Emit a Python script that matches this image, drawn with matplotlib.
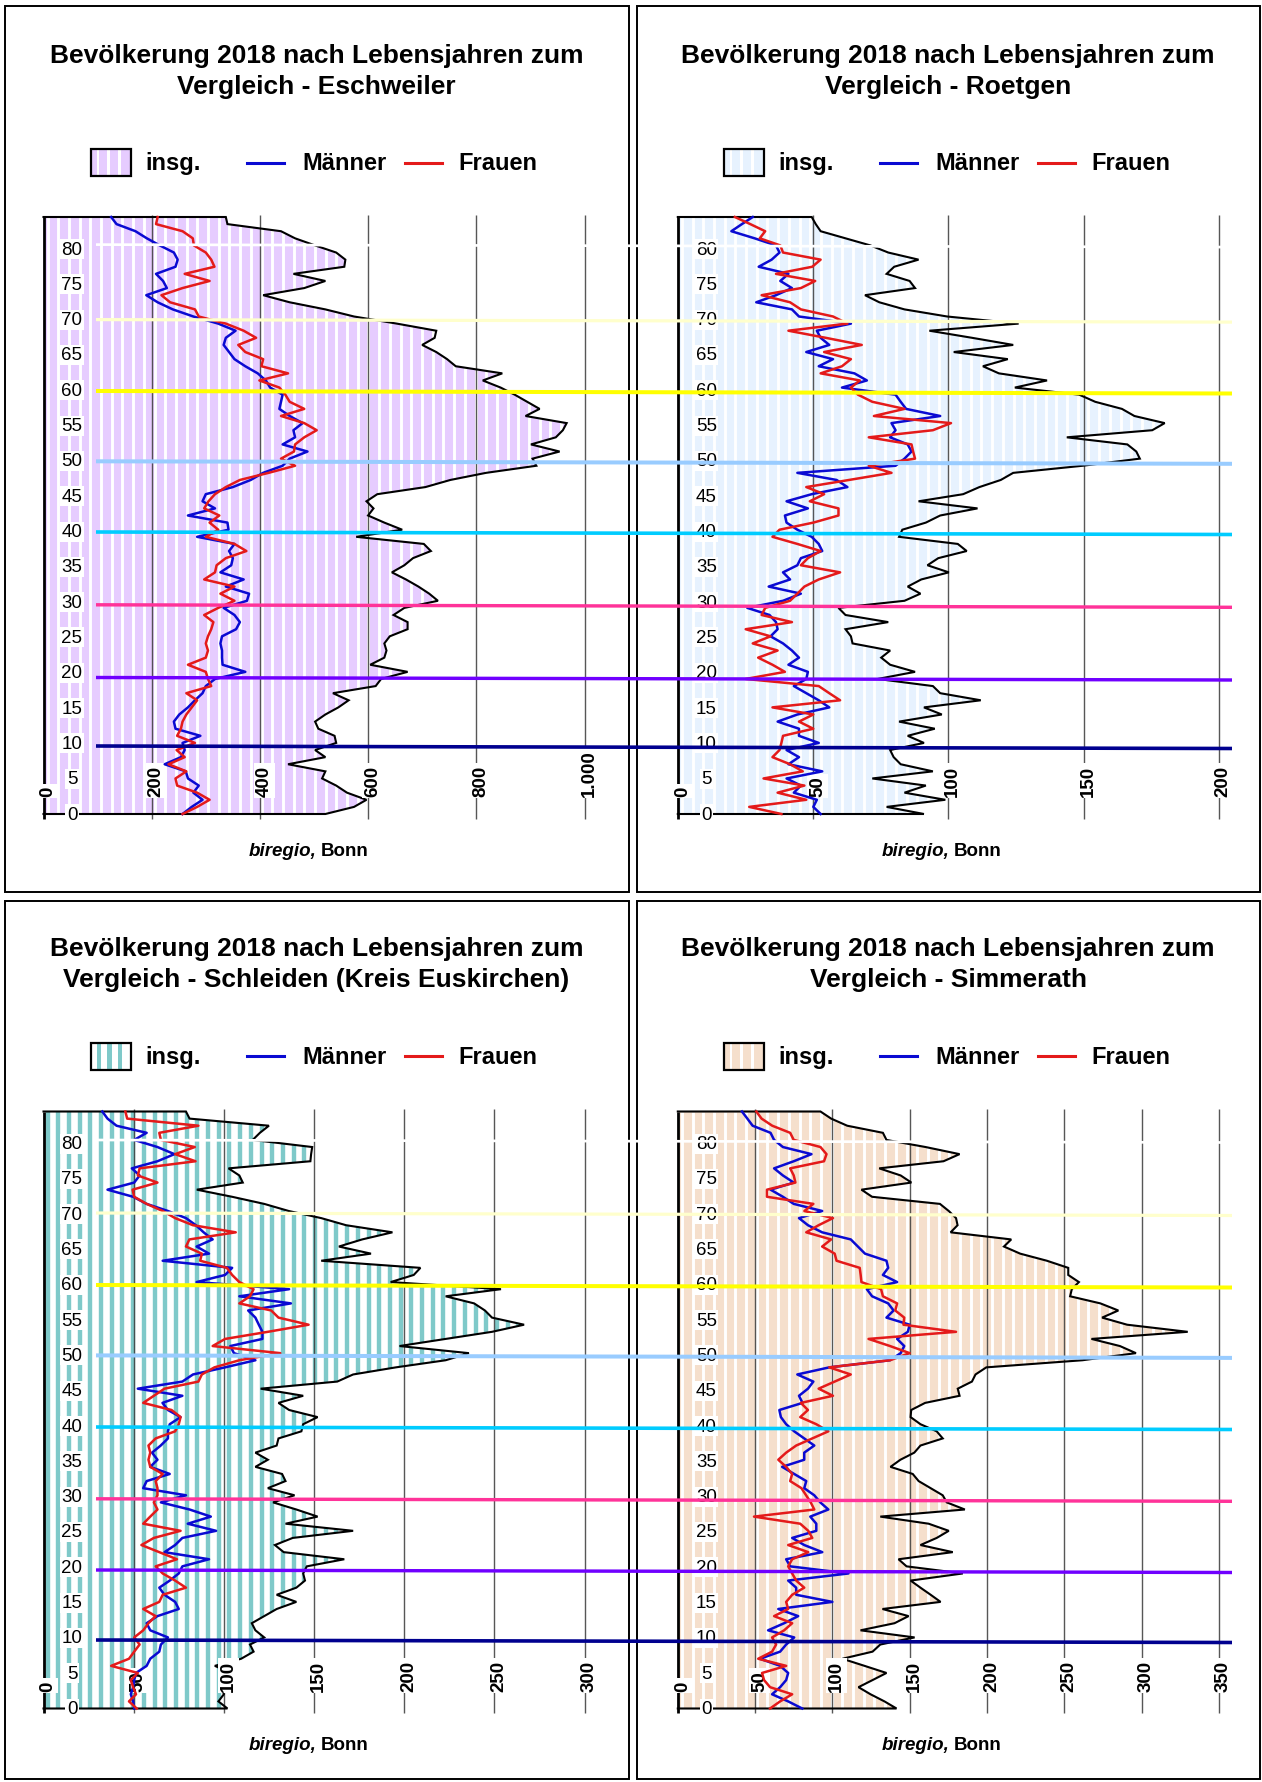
import numpy as np
import matplotlib
matplotlib.use("Agg")
import matplotlib.pyplot as plt
from matplotlib import font_manager as fm
from matplotlib.patches import Polygon, Rectangle
from matplotlib.lines import Line2D
from matplotlib.collections import LineCollection
import matplotlib.transforms as mtransforms

# ---------------- data (index = age 0 .. 84) ----------------
ages = list(range(0, 85))

eschweiler_insg = [521, 574, 597, 561, 541, 515, 521, 452, 521, 502, 541, 538, 508, 502, 521, 545, 564, 535, 614, 624,
                   673, 604, 630, 634, 630, 640, 673, 673, 647, 667, 729, 713, 693, 670, 644, 667, 683, 716, 703, 578,
                   663, 630, 600, 610, 597, 617, 706, 752, 818, 911, 904, 954, 901, 947, 960, 967, 891, 917, 894, 871,
                   845, 812, 848, 762, 746, 726, 700, 723, 726, 653, 574, 521, 455, 406, 482, 521, 462, 556, 558, 541,
                   502, 465, 439, 340, 337]
eschweiler_maenner = [257, 274, 294, 277, 287, 267, 263, 224, 254, 261, 257, 290, 244, 241, 251, 267, 280, 294, 300, 317,
                      373, 331, 330, 330, 327, 330, 356, 363, 353, 333, 376, 380, 337, 370, 327, 347, 350, 343, 353, 284,
                      342, 340, 267, 317, 294, 300, 350, 383, 406, 442, 455, 488, 442, 465, 462, 479, 455, 436, 439, 442,
                      419, 411, 396, 373, 353, 343, 333, 337, 355, 323, 277, 239, 211, 190, 228, 221, 208, 244, 248, 241,
                      215, 191, 170, 135, 125]
eschweiler_frauen = [257, 284, 307, 284, 247, 244, 264, 231, 261, 246, 280, 247, 254, 257, 264, 274, 284, 264, 310, 304,
                     300, 267, 300, 304, 300, 304, 310, 314, 297, 323, 353, 327, 353, 297, 317, 320, 337, 375, 353, 300,
                     323, 307, 325, 297, 305, 317, 337, 363, 416, 465, 439, 463, 465, 482, 505, 482, 439, 482, 455, 447,
                     436, 399, 452, 403, 406, 373, 360, 393, 370, 337, 287, 280, 234, 218, 257, 307, 261, 316, 310, 300,
                     278, 276, 257, 208, 211]

roetgen_insg = [91, 77.2, 98.9, 83.8, 91.7, 71.9, 94.3, 82.4, 79.8, 78.5, 91, 85, 95, 81.8, 97.6, 91, 112, 97, 94.3, 73.9,
                87.7, 78.5, 75.2, 78.5, 64.6, 64, 62, 77.8, 62, 59.4, 83.8, 89.7, 85, 90, 100.2, 92.3, 96.3, 106.8, 103.5, 81.8,
                83, 91.7, 97, 110.8, 89, 105.5, 111.5, 119.4, 124, 149.7, 170.8, 169.5, 166.2, 143.8, 175.4, 180, 168.8, 164.2, 154.3, 148.4,
                124.6, 136.5, 118.7, 112.8, 122, 102, 124, 108.8, 93, 126, 99.6, 83.8, 74.5, 69.2, 87.7, 85.7, 77.2, 80, 89, 77.8,
                71.2, 62, 52.8, 51, 49.5]
roetgen_maenner = [52.8, 50.1, 51.4, 42.9, 45.5, 40.2, 53.4, 40.9, 44.8, 40.2, 52.1, 44.8, 44.8, 36.9, 44.2, 56, 52.1, 47.5, 42.9, 47.5,
                   48.1, 40.9, 44.8, 42.2, 38.9, 34.3, 36.9, 36.3, 33.9, 25.7, 38.9, 45.5, 33.6, 41.5, 38.9, 44.2, 45.5, 53.4, 52.1, 49.5,
                   44.2, 40.2, 39.6, 48.1, 40.2, 49.5, 62.7, 58.7, 44.2, 80.5, 83.8, 86.4, 85, 78.5, 80.5, 79, 97, 84.4, 82.4, 80.5,
                   60.7, 69.9, 65.3, 52.1, 57.4, 47.5, 56, 52.8, 51.4, 64, 44.8, 42.2, 29, 36.3, 42.2, 37.9, 40.9, 29.9, 34.7, 37.6,
                   36.3, 28.4, 19.8, 23.7, 27.7]
roetgen_frauen = [38.3, 26.4, 47.5, 36.9, 46.8, 31.7, 46.2, 41.5, 35, 37.6, 38.3, 38.9, 50.1, 44.8, 50.1, 35, 60, 56, 52.1, 25.1,
                  39.6, 35, 29.7, 36.9, 27.7, 34.3, 25.1, 42.2, 31, 32.3, 41.5, 44.2, 46.8, 52.1, 60, 45.5, 48.1, 52.8, 44.2, 35,
                  37.6, 50.1, 59.4, 59.4, 48.8, 54.1, 47.5, 63.3, 79, 70.6, 87.7, 87, 86.4, 70.6, 94.3, 101, 72.5, 83.8, 71.9, 66.6,
                  64, 67.3, 52.8, 60.7, 64, 54.1, 68, 54.7, 40.9, 62.7, 57.4, 45.5, 41.5, 31, 45.5, 50.8, 36.3, 49.7, 52.8, 38.9,
                  37.9, 30.3, 32.3, 26.8, 21.1]

schleiden_insg = [102, 97, 100, 99, 99, 104, 95, 109.6, 116.5, 114.5, 122.4, 117.5, 115.5, 122.4, 129.3, 140.2, 129.3, 140.2, 145, 144,
                  146, 166.8, 133.2, 128.3, 138.2, 171.7, 134.2, 152, 140.2, 127.3, 139.2, 124.4, 134.2, 132.3, 117.5, 124.4, 117.5, 129.3, 130.3, 143,
                  144, 152, 136.2, 130.3, 144, 120.4, 162.9, 171.7, 195.4, 223, 235.9, 197.4, 223, 248.7, 266.5, 248.7, 244.8, 238.8, 223, 253.7,
                  192.5, 205.3, 209, 154, 181.6, 163.8, 176.7, 193.5, 167.8, 154, 136, 122.4, 104.6, 85, 110.5, 108.6, 102.6, 148, 148.4, 149,
                  116, 120, 125, 81, 79]
schleiden_maenner = [50.3, 49.7, 48.4, 49.7, 50.3, 51.3, 57.2, 59.2, 64.2, 65.1, 69, 59.2, 57.2, 63.2, 75, 73, 67.1, 64.2, 70, 75,
                     77, 91.8, 67.1, 73, 77, 95.7, 80, 92.8, 81, 65.1, 79, 55.3, 57.2, 70, 59.2, 63.2, 60.2, 65, 69, 69,
                     70, 76, 69, 66, 77, 52.3, 77, 82.9, 100.7, 117.5, 105.6, 103.6, 121.4, 121.4, 119.4, 117.5, 113.5, 137.2, 108.6, 136.2,
                     84.9, 100.7, 104.6, 66.1, 91.8, 84.9, 93.8, 88.8, 84.5, 79, 69, 57.2, 49.7, 35.5, 50.3, 53.3, 49, 63.2, 72.6, 63.2,
                     50.3, 57.2, 40.5, 35.5, 32.6]
schleiden_frauen = [51.7, 47.4, 51.3, 49.7, 48.4, 52.3, 37.5, 47.4, 50.3, 53.3, 50.3, 55.3, 58.2, 62.2, 55.3, 64.2, 66.1, 79, 73, 66.1,
                    62.2, 74, 64.2, 54.3, 61.2, 76, 55.3, 59.2, 63.2, 61.2, 63.2, 63.2, 62.2, 66.1, 59.2, 58.2, 59.2, 58.2, 62.2, 73,
                    75, 76, 71, 55.3, 61.2, 67.1, 85.9, 87.8, 94.8, 108.6, 131.3, 93.8, 100.7, 124.4, 147, 130.3, 126.3, 108.6, 114.5, 116.5,
                    108.6, 104.6, 101.7, 86.9, 87.8, 79, 80.9, 106.6, 82.9, 73, 66.1, 57.2, 50.3, 49.4, 63.2, 52.3, 53.3, 84.3, 73, 83.9,
                    65.1, 64.2, 85.9, 46.4, 45.4]

simmerath_insg = [141.5, 133.7, 124.7, 116.9, 126, 135, 120.8, 106.5, 126, 131, 153.2, 118.2, 140.2, 149.3, 132.4, 170, 163.6, 157, 150.6, 184.4,
                  148, 142.8, 177.9, 157, 167.5, 175.3, 162.3, 131, 185.7, 174, 171.4, 163.6, 155.8, 152, 137.6, 144, 153, 157, 171.4, 167.5,
                  157, 150.6, 151, 160, 182.3, 181.1, 190.3, 192.6, 199.6, 261.8, 296.4, 286, 267.6, 329.9, 290.7, 274.5, 285, 273.4, 253.8, 254.9,
                  259.5, 252.6, 252.6, 238.8, 221.5, 211, 215.7, 176.5, 181, 180, 175.3, 169.6, 125.7, 118.8, 151.1, 144.2, 130.3, 171.9, 182.3, 160.3,
                  135, 132.7, 109.6, 99.2, 92.3]
simmerath_maenner = [80.5, 71.4, 61, 66.2, 70.1, 71.4, 66.2, 53.2, 66.2, 70.1, 75.3, 58.4, 68.8, 77.9, 65, 100, 76.6, 76.6, 71.4, 110.4,
                     72.7, 70.1, 93.5, 81.8, 74, 89.6, 89.6, 85.7, 97.4, 92.2, 88.3, 81.8, 83.1, 75.3, 67.5, 81.8, 81.8, 88.3, 81.8, 75.3,
                     70.1, 66.7, 65.7, 80.7, 78.4, 84.2, 87.7, 77.3, 98, 137.3, 144.2, 146.5, 141.9, 148.8, 150, 135, 139.6, 136.1, 125.7, 122.3,
                     141.9, 132.7, 136.1, 135, 121.1, 116.5, 111.9, 93.4, 84.2, 78.4, 93.4, 75, 68, 60, 75, 68, 62.3, 75, 86.5, 68,
                     62.3, 60, 48.4, 45, 41.5]
simmerath_frauen = [59.7, 66.2, 74, 59.7, 55.8, 54.5, 70.1, 52, 61, 63.6, 61, 68.8, 74, 62.3, 71.4, 70.1, 74, 81.8, 76.6, 74,
                    71.4, 74, 84.4, 71.4, 87, 84.4, 79.2, 49.3, 88.3, 86, 83, 80, 72.7, 74, 70.1, 65, 70.1, 76.6, 87, 97.4,
                    89.6, 79.2, 84.2, 79.6, 100.4, 91.1, 101.5, 111.9, 98, 137.3, 150, 137.3, 123.4, 180, 146, 146.5, 140.7, 141.9, 132.7, 131.5,
                    118.8, 118.3, 117.7, 102.7, 101.5, 93.4, 99.2, 83.1, 91.1, 100.4, 81.9, 87.7, 57.7, 57.7, 76.1, 75, 72.7, 94.6, 96.2, 92.3,
                    75, 72.7, 61.1, 54.2, 50.8]

age_ticks = list(range(0, 85, 5))
eschweiler_ticks = [0, 200, 400, 600, 800, 1000]
eschweiler_ticklabels = ['0', '200', '400', '600', '800', '1.000']
roetgen_ticks = [0, 50, 100, 150, 200]
roetgen_ticklabels = ['0', '50', '100', '150', '200']
schleiden_ticks = [0, 50, 100, 150, 200, 250, 300]
schleiden_ticklabels = ['0', '50', '100', '150', '200', '250', '300']
simmerath_ticks = [0, 50, 100, 150, 200, 250, 300, 350]
simmerath_ticklabels = ['0', '50', '100', '150', '200', '250', '300', '350']

title_line1 = 'Bevölkerung 2018 nach Lebensjahren zum'
legend_labels = ['insg.', 'Männer', 'Frauen']

# ---------------- figure ----------------
W, H = 1262, 1783
DPI = 100
fig = plt.figure(figsize=(W / DPI, H / DPI), dpi=DPI)
fig.patch.set_facecolor('white')
PT = 72.0 / DPI


def fx(x):
    return x / W


def fy(y):
    return 1.0 - y / H


names = {f.name for f in fm.fontManager.ttflist}
BASE = 'Liberation Sans' if 'Liberation Sans' in names else 'DejaVu Sans'
if 'Liberation Sans Narrow' in names:
    NFAM = 'Liberation Sans Narrow'
    AGE_FS, VAL_FS, FOOT_FS = 15, 15.5, 16
else:
    NFAM = BASE
    AGE_FS, VAL_FS, FOOT_FS = 13.5, 13.5, 13.5

BLUE = '#0A0AD2'
RED = '#E41A1A'
GRID = '#3A3A3A'

panels = [
    dict(sub='Vergleich - Eschweiler', total=eschweiler_insg, men=eschweiler_maenner, women=eschweiler_frauen,
         ticks=eschweiler_ticks, labels=eschweiler_ticklabels, col=0, row=0,
         base='#E6CCFF', stripe='white', sw=2.9),
    dict(sub='Vergleich - Roetgen', total=roetgen_insg, men=roetgen_maenner, women=roetgen_frauen,
         ticks=roetgen_ticks, labels=roetgen_ticklabels, col=1, row=0,
         base='#E7F2FE', stripe='white', sw=2.9),
    dict(sub='Vergleich - Schleiden (Kreis Euskirchen)', total=schleiden_insg, men=schleiden_maenner,
         women=schleiden_frauen, ticks=schleiden_ticks, labels=schleiden_ticklabels, col=0, row=1,
         base='white', stripe='#7FC9C9', sw=4.4),
    dict(sub='Vergleich - Simmerath', total=simmerath_insg, men=simmerath_maenner, women=simmerath_frauen,
         ticks=simmerath_ticks, labels=simmerath_ticklabels, col=1, row=1,
         base='#F5DFCC', stripe='white', sw=2.9),
]

AGE_MAX = 84
for p in panels:
    cx = p['col']
    ry = p['row']
    oxa = 634.3 * cx      # axes offset
    oxt = 631.5 * cx      # frame / title offset
    oxl = 633.0 * cx      # legend / footer offset
    oya = 894.5 * ry
    oyt = 893.5 * ry

    # frame
    ftop = 6.8 if ry == 0 else 901.6
    fbot = 892.5 if ry == 0 else 1779.5
    fig.add_artist(Rectangle((fx(5.0 + oxt), fy(fbot)), 623.5 / W, (fbot - ftop) / H,
                             transform=fig.transFigure, fill=False, ec='black', lw=1.4))

    # titles
    fig.text(fx(316.5 + oxt), fy(55.7 + oyt), title_line1, ha='center', va='center',
             fontsize=19, fontweight='bold', family=BASE)
    fig.text(fx(316.5 + oxt), fy(87.0 + oyt), p['sub'], ha='center', va='center',
             fontsize=19, fontweight='bold', family=BASE)

    # legend
    sx, sy, sw_, sh_ = 91 + oxl, 150 + oyt, 40, 27
    fig.add_artist(Rectangle((fx(sx), fy(sy + sh_)), sw_ / W, sh_ / H, transform=fig.transFigure,
                             fc=p['base'], ec='none', zorder=3))
    for off in (5.5, 16.2, 26.9):
        fig.add_artist(Rectangle((fx(sx + off), fy(sy + sh_)), p['sw'] / W, sh_ / H,
                                 transform=fig.transFigure, fc=p['stripe'], ec='none', zorder=3.1))
    fig.add_artist(Rectangle((fx(sx), fy(sy + sh_)), sw_ / W, sh_ / H, transform=fig.transFigure,
                             fill=False, ec='black', lw=1.6, zorder=3.2))
    ly = fy(163.7 + oyt)
    fig.add_artist(Line2D([fx(247 + oxl), fx(284 + oxl)], [ly, ly], color=BLUE, lw=2.2,
                          transform=fig.transFigure))
    fig.add_artist(Line2D([fx(405 + oxl), fx(442 + oxl)], [ly, ly], color=RED, lw=2.2,
                          transform=fig.transFigure))
    for txt, xx in zip(legend_labels, (145.5, 302, 458)):
        fig.text(fx(xx + oxl), ly, txt, ha='left', va='center', fontsize=17, fontweight='bold', family=BASE)

    # footer
    fyy = fy(851.6 + oyt)
    fig.text(fx(317 + oxl), fyy, 'biregio,', ha='right', va='center', fontsize=FOOT_FS,
             fontweight='bold', fontstyle='italic', family=NFAM)
    fig.text(fx(321 + oxl), fyy, 'Bonn', ha='left', va='center', fontsize=FOOT_FS,
             fontweight='bold', family=NFAM)

    # axes
    L, R = 43.5 + oxa, 584.5 + oxa
    T, B = 218 + oya, 815 + oya
    ax = fig.add_axes([fx(L), fy(B), (R - L) / W, (B - T) / H])
    ax.set_facecolor('none')
    xmax = p['ticks'][-1]
    ax.set_xlim(0, xmax)
    ax.set_ylim(0, AGE_MAX)
    for s in ax.spines.values():
        s.set_visible(False)
    ax.set_xticks([])
    ax.set_yticks([])

    total = p['total']
    verts = [(0, 0)] + list(zip(total, ages)) + [(0, AGE_MAX)]
    poly = Polygon(verts, closed=True, fc=p['base'], ec='none', zorder=1)
    ax.add_patch(poly)

    # vertical stripes inside the area
    px_per_unit = (R - L) / xmax
    period = 10.7 / px_per_unit
    xs = np.arange(4.0 / px_per_unit, xmax, period)
    segs = [[(x, 0), (x, AGE_MAX)] for x in xs]
    lc = LineCollection(segs, colors=p['stripe'], linewidths=p['sw'] * PT, zorder=1.5)
    ax.add_collection(lc)
    lc.set_clip_path(poly)

    # gridlines
    for t in p['ticks'][1:]:
        ax.plot([t, t], [-0.7, AGE_MAX + 0.3], color=GRID, lw=1.0, alpha=0.85, zorder=2,
                clip_on=False, solid_capstyle='butt')
    ax.plot([0, 0], [-0.7, AGE_MAX], color='black', lw=2.0, zorder=2.6, clip_on=False,
            solid_capstyle='butt')

    # outline of area (insg.)
    ox_ = [0] + list(total) + [0]
    oy_ = [0] + ages + [AGE_MAX]
    ax.plot(ox_, oy_, color='black', lw=1.5, zorder=2.8, clip_on=False, solid_joinstyle='miter')

    # value tick labels (rotated)
    offs = mtransforms.ScaledTranslation(4.5 / DPI, 0, fig.dpi_scale_trans)
    for t, lab in zip(p['ticks'], p['labels']):
        ax.text(t, 2.5, lab, rotation=90, ha='center', va='bottom', fontsize=VAL_FS,
                fontweight='bold', family=NFAM, transform=ax.transData + offs, zorder=3,
                bbox=dict(boxstyle='square,pad=0.1', fc='white', ec='none'))

    # age labels
    btr = mtransforms.blended_transform_factory(ax.transAxes, ax.transData)
    for a in age_ticks:
        ax.text(28.5 / (R - L), a * 0.9937, str(a), ha='center', va='center', fontsize=AGE_FS,
                family=NFAM, transform=btr, zorder=3, clip_on=False,
                bbox=dict(boxstyle='square,pad=0.08', fc='white', ec='none'))

    # Männer / Frauen lines
    ax.plot(p['men'], ages, color=BLUE, lw=1.8, zorder=4, clip_on=False)
    ax.plot(p['women'], ages, color=RED, lw=1.8, zorder=4.1, clip_on=False)

# decade reference lines across the panels (figure pixel positions)
line_styles = [('#FFFFFF', 2.7), ('#FFFFCC', 3.2), ('#FFFF00', 4.0), ('#99CCFF', 4.0),
               ('#00CCFF', 3.6), ('#FF3399', 3.4), ('#7000FF', 3.4), ('#00008F', 3.6)]
top_y = [245.6, 320.6, 392.0, 462.3, 533.0, 605.8, 678.5, 747.0]
bot_y = [1141.0, 1214.0, 1286.0, 1356.4, 1428.0, 1499.8, 1571.0, 1641.0]
for ys in (top_y, bot_y):
    for yy, (c, w) in zip(ys, line_styles):
        fig.add_artist(Line2D([fx(96), fx(1232)], [fy(yy), fy(yy + 2.5)], color=c, lw=w * PT,
                              transform=fig.transFigure, zorder=5, solid_capstyle='butt'))

fig.savefig('out.png', dpi=DPI, facecolor='white')
